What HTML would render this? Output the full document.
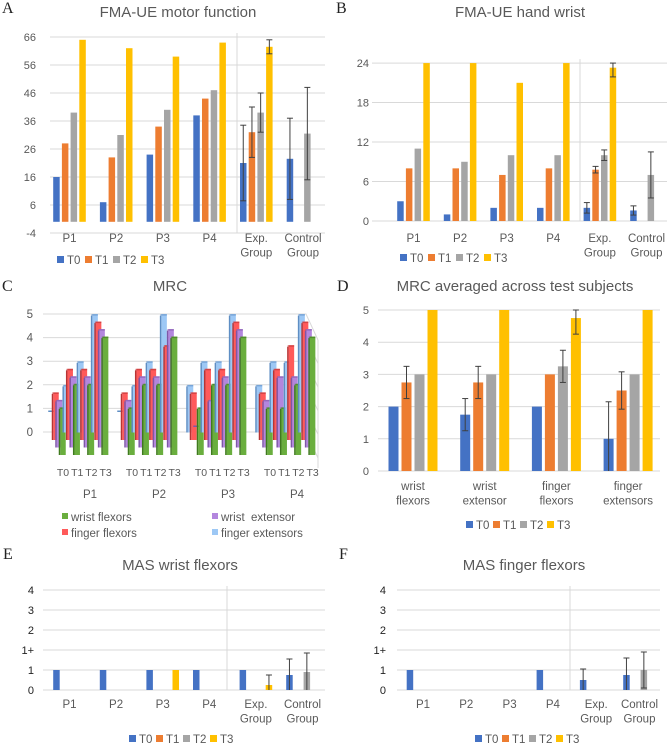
<!DOCTYPE html>
<html><head><meta charset="utf-8">
<style>
html,body{margin:0;padding:0;background:#fff;}
svg{display:block;font-family:"Liberation Sans",sans-serif;}
</style></head>
<body>
<svg id="fig" width="669" height="745" viewBox="0 0 669 745" xmlns="http://www.w3.org/2000/svg"></svg>
<script>
// ---------- DATA ----------
const tSeries = ['T0','T1','T2','T3'];
const tColors = ['#4472C4','#ED7D31','#A5A5A5','#FFC000'];
const catsPE = ['P1','P2','P3','P4','Exp.|Group','Control|Group'];

const aVals = [[16,7,24,38,21,22.5],[28,23,34,44,32,0],[39,31,40,47,39,31.5],[65,62,59,64,62.5,0]];
const aErrs = [[0,0,0,0,13.5,14.5],[0,0,0,0,9,0],[0,0,0,0,7,16.5],[0,0,0,0,2.5,0]];
const aTicks = [66,56,46,36,26,16,6,-4];

const bVals = [[3,1,2,2,2,1.6],[8,8,7,8,7.8,0],[11,9,10,10,10,7],[24,24,21,24,23.3,0]];
const bErrs = [[0,0,0,0,0.8,0.7],[0,0,0,0,0.5,0],[0,0,0,0,0.8,3.5],[0,0,0,0,1.4,0]];
const bTicks = [0,6,12,18,24];

const dCats = ['wrist|flexors','wrist|extensor','finger|flexors','finger|extensors'];
const dVals = [[2,1.75,2,1],[2.75,2.75,3,2.5],[3,3,3.25,3],[5,5,4.75,5]];
const dErrs = [[0,0.5,0,1.15],[0.5,0.5,0,0.58],[0,0,0.5,0],[0,0,0.5,0]];
const dTicks = [0,1,2,3,4,5];

const masTicks = ['0','1','1+','2','3','4'];
const eVals = [[1,1,1,1,1,0.75],[0,0,0,0,0,0],[0,0,0,0,0,0.9],[0,0,1,0,0.25,0]];
const eErrs = [[0,0,0,0,0,0.8],[0,0,0,0,0,0],[0,0,0,0,0,0.95],[0,0,0,0,0.5,0]];
const fVals = [[1,0,0,1,0.5,0.75],[0,0,0,0,0,0],[0,0,0,0,0,1],[0,0,0,0,0,0]];
const fErrs = [[0,0,0,0,0.55,0.85],[0,0,0,0,0,0],[0,0,0,0,0,0.9],[0,0,0,0,0,0]];

const cPatients = ['P1','P2','P3','P4'];
const cSeries = ['wrist flexors','wrist  extensor','finger flexors','finger extensors'];
const cColors = ['#6AAE3E','#B386DE','#FF5A5A','#9DC8F5'];
const cDark = ['#3F7A1E','#7E57A8','#B83434','#5E8EC4'];
const cGreen = [[1,2,2,4],[1,2,2,4],[1,2,2,4],[1,1,2,4]];
const cPurple = [[1,2,2,4],[1,2,2,4],[0,1,2,4],[1,2,2,4]];
const cRed = [[1,2,2,4],[1,2,2,3],[1,2,2,4],[1,2,3,4]];
const cBlue = [[0,1,2,4],[0,1,2,4],[1,2,2,4],[1,2,2,4]];
const cTicks = [0,1,2,3,4,5];

// ---------- HELPERS ----------
const svg = document.getElementById('fig');
const NS = 'http://www.w3.org/2000/svg';
function mk(tag, attrs, parent){
  const e = document.createElementNS(NS, tag);
  for (const k in attrs) e.setAttribute(k, attrs[k]);
  (parent||svg).appendChild(e);
  return e;
}
function txt(x,y,s,size,fill,anchor,parent,family){
  const t = mk('text',{x:x,y:y,'font-size':size,fill:fill,'text-anchor':anchor||'middle'},parent);
  if (family) t.setAttribute('font-family', family);
  t.textContent = s;
  return t;
}

function barChart(o){
  const g = mk('g',{});
  
  
  const y = v => o.y0 - (v - o.vmin) * o.ppu;
  o.ticks.forEach((tk,i)=>{
    const v = o.tickVals ? o.tickVals[i] : tk;
    const gl = mk('line',{x1:o.x0,x2:o.x1,y1:y(v),y2:y(v),stroke:'#d9d9d9','stroke-width':1},g);
    
    
    const tl = txt(o.tickX, y(v)+4, tk, 11, o.tickColor||'#595959','end',g);
    
    
  });
  if (o.sep){
    const s = mk('line',{x1:o.sep,x2:o.sep,y1:y(o.vmax)-4,y2:o.sepBottom||y(o.vmin),stroke:'#d9d9d9','stroke-width':1},g);
    
    
  }
  const base = y(o.base||0);
  const topLim = y(o.vmax);
  o.cats.forEach((c,ci)=>{
    const cx = o.cx0 + ci*o.cstep;
    o.vals.forEach((ser,si)=>{
      const v = ser[ci];
      const bx = cx + (si-1.5)*o.bstep - o.bw/2;
      if (v>0){
        const r = mk('rect',{x:bx,y:y(v),width:o.bw,height:base-y(v),fill:o.colors[si]},g);
        
        
      }
      const e = o.errs[si][ci];
      if (e>0){
        const ex = bx + o.bw/2;
        const eg = mk('g',{stroke:'#404040','stroke-width':1},g);
        
        
        const yt = Math.max(y(v+e), topLim);
        mk('line',{x1:ex,x2:ex,y1:yt,y2:Math.min(y(v-e),base)},eg);
        mk('line',{x1:ex-3,x2:ex+3,y1:yt,y2:yt},eg);
        if (y(v-e)<=base+0.1) mk('line',{x1:ex-3,x2:ex+3,y1:y(v-e),y2:y(v-e)},eg);
      }
    });
    const parts = c.split('|');
    parts.forEach((p,pi)=>{
      const l = txt(cx, o.labY + pi*14.5, p, 11.5, '#595959','middle',g);
      
      
    });
  });
  const lg = mk('g',{},g);
  
  
  tSeries.forEach((s,si)=>{
    const lx = o.legX + si*o.legStep;
    const sq = mk('rect',{x:lx,y:o.legY-8,width:7,height:7,fill:o.colors[si]},lg);
    
    
    const lt = txt(lx+10,o.legY,s,11.5,'#595959','start',lg);
    
    
  });
}

function title(x,y,s,name){
  const t = txt(x,y,s,15,'#595959','middle');
  
  
}
function letter(x,y,s){
  const t = txt(x,y,s,16,'#222','start',null,'"Liberation Serif",serif');
  
  
}

// ---------- PANEL A ----------
letter(2,13,'A');
title(178,17,'FMA-UE motor function','panel-a-title');
barChart({name:'panel-a-chart',ticks:aTicks,vmin:-4,vmax:66,y0:233,ppu:2.8,x0:50,x1:325,tickX:36,
  sep:237,sepBottom:233,cats:catsPE,cx0:69.5,cstep:46.7,bw:6.5,bstep:8.7,vals:aVals,errs:aErrs,colors:tColors,
  labY:242,legX:57,legStep:28,legY:264,base:0});
// ---------- PANEL B ----------
letter(336,13,'B');
title(520,17,'FMA-UE hand wrist','panel-b-title');
barChart({name:'panel-b-chart',ticks:bTicks,vmin:0,vmax:24,y0:221,ppu:6.58,x0:372,x1:667,tickX:369,
  sep:580,sepBottom:221,cats:catsPE,cx0:413.5,cstep:46.6,bw:6.5,bstep:8.7,vals:bVals,errs:bErrs,colors:tColors,
  labY:242,legX:400,legStep:28,legY:262,base:0});
// ---------- PANEL D ----------
letter(337,291,'D');
title(515,291,'MRC averaged across test subjects','panel-d-title');
barChart({name:'panel-d-chart',ticks:dTicks,vmin:0,vmax:5,y0:471,ppu:32.2,x0:378,x1:660,tickX:369,
  sep:0,cats:dCats,cx0:413,cstep:71.7,bw:10,bstep:13,vals:dVals,errs:dErrs,colors:tColors,
  labY:490,legX:466,legStep:27,legY:529,base:0});
// ---------- PANEL E ----------
letter(3,559,'E');
title(180,570,'MAS wrist  flexors','panel-e-title');
barChart({name:'panel-e-chart',ticks:masTicks,tickVals:[0,1,2,3,4,5],vmin:0,vmax:5,y0:690,ppu:20,x0:43,x1:325,tickX:34,tickColor:'#222',
  sep:227,sepBottom:690,cats:catsPE,cx0:69.5,cstep:46.6,bw:6.5,bstep:8.7,vals:eVals,errs:eErrs,colors:tColors,
  labY:708,legX:129,legStep:27,legY:743,base:0});
// ---------- PANEL F ----------
letter(339,559,'F');
title(524,570,'MAS finger flexors','panel-f-title');
barChart({name:'panel-f-chart',ticks:masTicks,tickVals:[0,1,2,3,4,5],vmin:0,vmax:5,y0:690,ppu:20,x0:397,x1:660,tickX:386,tickColor:'#222',
  sep:570,sepBottom:690,cats:catsPE,cx0:423,cstep:43.3,bw:6.5,bstep:8.7,vals:fVals,errs:fErrs,colors:tColors,
  labY:708,legX:475,legStep:27,legY:743,base:0});

// ---------- PANEL C (pseudo-3D) ----------
letter(2,291,'C');
title(170,291,'MRC','panel-c-title');
(function(){
  const g = mk('g',{});
  
  
  const ppu = 23.6;
  const yT = v => 432 - v*ppu;
  cTicks.forEach(v=>{
    const gl = mk('path',{d:`M43 ${yT(v)} L306 ${yT(v)} L318 ${yT(v)+26}`,stroke:'#d9d9d9',fill:'none','stroke-width':1},g);
    
    
    const tl = txt(33,yT(v)+4,String(v),11.5,'#595959','end',g);
    
    
  });
  mk('line',{x1:318,x2:318,y1:yT(5)+26,y2:yT(0)+36,stroke:'#d9d9d9'},g);
  const series = [cGreen,cPurple,cRed,cBlue];
  const bw = 5.5, pstep = 69, tstep = 14.2, cx0 = 63;
  cPatients.forEach((p,pi)=>{
    for (let ti=0; ti<4; ti++){
      for (let k=3; k>=0; k--){
        const v = series[k][pi][ti];
        const cx = cx0 + pi*pstep + ti*tstep - k*3.5;
        const bottom = 455 - 7.5*k;
        const top = v>0 ? bottom - 24 - v*ppu : bottom - 22;
        const bg = mk('g',{},g);
        
        
        if (v>0){
          mk('rect',{x:cx-bw/2,y:top,width:bw,height:bottom-top,fill:cColors[k]},bg);
          mk('rect',{x:cx-bw/2-1.5,y:top+1.5,width:1.5,height:bottom-top-1.5,fill:cDark[k]},bg);
          mk('rect',{x:cx-bw/2-1,y:top,width:bw+1,height:1.5,fill:cDark[k],opacity:0.6},bg);
        } else {
          mk('rect',{x:cx-bw/2-1.5,y:top,width:bw,height:1.5,fill:cDark[k]},bg);
        }
      }
      const tl = txt(cx0 + pi*pstep + ti*tstep, 476, 'T'+ti, 10.5,'#595959','middle',g);
      
      
    }
    const pl = txt(90 + pi*69, 498, p, 11.5,'#595959','middle',g);
    
    
  });
  const lg = mk('g',{},g);
  
  
  const pos = [[62,521],[212,521],[62,537],[212,537]];
  cSeries.forEach((s,k)=>{
    const sq = mk('rect',{x:pos[k][0],y:pos[k][1]-8,width:6,height:6,fill:cColors[k]},lg);
    
    
    const lt = txt(pos[k][0]+9,pos[k][1],s,11.5,'#595959','start',lg);
    
    
    lt.style.whiteSpace='pre';
  });
})();
</script>
</body></html>
